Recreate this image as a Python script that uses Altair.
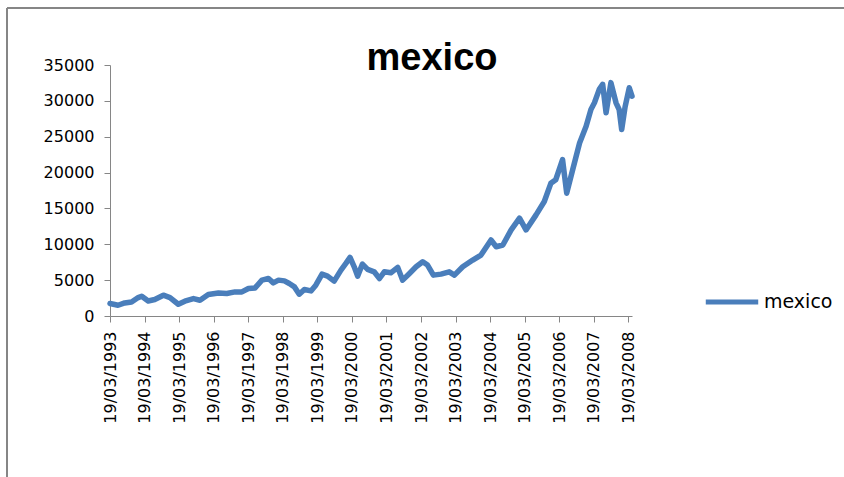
import altair as alt
import pandas as pd

dates = [
    "1993-03-19", "1993-06-12", "1993-08-21", "1993-11-02", "1994-01-11", "1994-02-17",
    "1994-04-27", "1994-07-05", "1994-10-04", "1994-12-13", "1995-03-11", "1995-05-19",
    "1995-08-18", "1995-10-26", "1996-01-22", "1996-05-08", "1996-08-04", "1996-10-30",
    "1997-01-11", "1997-03-21", "1997-05-30", "1997-08-11", "1997-10-19", "1997-12-09",
    "1998-02-02", "1998-04-05", "1998-05-27", "1998-07-20", "1998-09-09", "1998-11-02",
    "1999-01-11", "1999-03-03", "1999-05-08", "1999-07-05", "1999-09-13", "1999-11-24",
    "2000-01-15", "2000-02-28", "2000-04-12", "2000-05-18", "2000-07-08", "2000-09-01",
    "2000-11-09", "2001-01-04", "2001-02-24", "2001-05-04", "2001-07-16", "2001-09-06",
    "2001-11-17", "2002-01-26", "2002-04-06", "2002-05-27", "2002-07-28", "2002-10-16",
    "2003-01-11", "2003-03-07", "2003-06-03", "2003-09-17", "2003-12-13", "2004-03-28",
    "2004-05-22", "2004-07-31", "2004-10-27", "2005-01-23", "2005-04-02", "2005-07-17",
    "2005-10-12", "2005-12-20", "2006-02-10", "2006-04-23", "2006-06-06", "2006-08-08",
    "2006-10-20", "2006-12-28", "2007-02-17", "2007-03-26", "2007-05-16", "2007-06-21",
    "2007-07-27", "2007-09-16", "2007-11-09", "2007-12-12", "2008-01-08", "2008-02-13",
    "2008-03-28", "2008-04-26",
]
values = [
    1740, 1500, 1820, 1960, 2570, 2760,
    2100, 2300, 2900, 2570, 1640, 2060,
    2430, 2200, 3000, 3220, 3130, 3360,
    3360, 3830, 3920, 5000, 5230, 4620,
    5000, 4900, 4530, 4060, 3040, 3690,
    3500, 4300, 5840, 5560, 4860, 6400,
    7330, 8170, 6860, 5560, 7240, 6500,
    6160, 5230, 6160, 6020, 6780, 5000,
    5930, 6860, 7560, 7100, 5700, 5840,
    6160, 5700, 6860, 7800, 8500, 10600,
    9660, 9900, 12000, 13640, 12000, 14100,
    15960, 18500, 19000, 21800, 17130, 20400,
    24130, 26460, 28800, 29730, 31600, 32300,
    28330, 32540, 29730, 28800, 26000, 29150,
    31830, 30660,
]
series_name = "mexico"
chart_title = "mexico"
tick_years = list(range(1993, 2009))
y_ticks = [0, 5000, 10000, 15000, 20000, 25000, 30000, 35000]

df = pd.DataFrame({"date": dates, "value": values, "series": series_name})
title_df = pd.DataFrame({"label": [chart_title]})

axis_color = "#868686"
font = "DejaVu Sans"

line = alt.Chart(df).mark_line(
    strokeWidth=5.5, strokeCap="round", strokeJoin="round"
).encode(
    x=alt.X(
        "date:T",
        scale=alt.Scale(type="utc", domain=[
            alt.DateTime(year=1993, month=3, date=19, utc=True),
            alt.DateTime(year=2008, month=4, date=26, utc=True),
        ]),
        axis=alt.Axis(
            title=None,
            values=[alt.DateTime(year=yy, month=3, date=19, utc=True) for yy in tick_years],
            labelExpr="utcFormat(datum.value, '%d/%m/%Y')",
            labelAngle=270,
            labelAlign="right",
            labelBaseline="middle",
            labelPadding=9,
            labelFont=font,
            labelFontSize=16,
            labelColor="#000000",
            labelOverlap=False,
            grid=False,
            domainColor=axis_color,
            tickColor=axis_color,
            tickSize=6,
        ),
    ),
    y=alt.Y(
        "value:Q",
        scale=alt.Scale(domain=[0, 35000], nice=False),
        axis=alt.Axis(
            title=None,
            values=y_ticks,
            format="d",
            labelFont=font,
            labelFontSize=16,
            labelColor="#000000",
            labelPadding=10,
            grid=False,
            domainColor=axis_color,
            tickColor=axis_color,
            tickSize=6,
        ),
    ),
    color=alt.Color(
        "series:N",
        scale=alt.Scale(range=["#4A7EBB"]),
        legend=alt.Legend(
            title=None,
            orient="none",
            legendX=593,
            legendY=208,
            symbolType="stroke",
            symbolSize=2750,
            symbolStrokeWidth=5,
            labelFont=font,
            labelFontSize=19,
            labelColor="#000000",
            labelOffset=3,
        ),
    ),
)

title_mark = alt.Chart(title_df).mark_text(
    font="Liberation Sans", fontSize=38, fontWeight="bold", color="#000000",
    align="center", baseline="alphabetic"
).encode(
    x=alt.value(322), y=alt.value(5), text="label:N"
)

frame_left = alt.Chart(df).mark_rule(color=axis_color, strokeWidth=1.5).encode(
    x=alt.value(-103), y=alt.value(-57), y2=alt.value(420)
)
frame_top = alt.Chart(df).mark_rule(color=axis_color, strokeWidth=1.5).encode(
    x=alt.value(-103), x2=alt.value(740), y=alt.value(-57)
)

chart = alt.layer(frame_left, frame_top, line, title_mark).properties(
    width=522,
    height=251,
    padding={"left": 110, "top": 65, "right": 212, "bottom": 161},
    autosize=alt.AutoSizeParams(type="none"),
).configure(background="white").configure_view(stroke=None)

chart.save("out.html", embed_options={"renderer": "svg", "actions": False})
